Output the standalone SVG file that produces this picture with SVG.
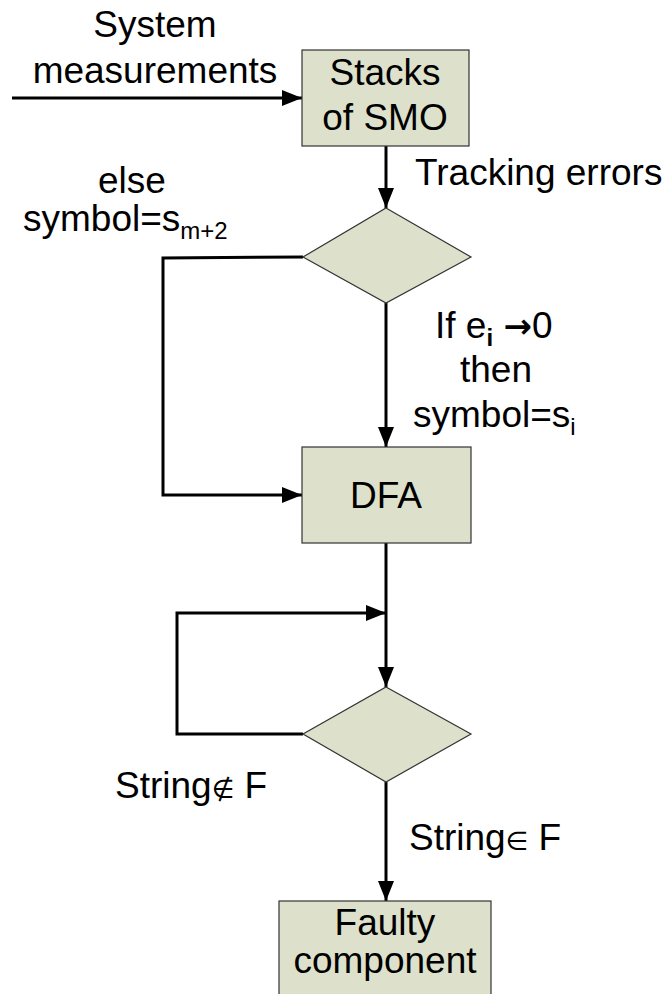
<svg xmlns="http://www.w3.org/2000/svg" width="669" height="994" viewBox="0 0 669 994">
  <style>
    .box { fill: #dde0cb; stroke: #333333; stroke-width: 1.2; }
    .edge { fill: none; stroke: #000000; stroke-width: 3; }
    .lbl { font-family: "Liberation Sans", Arial, sans-serif; font-size: 37px; fill: #000000; }
    .c { text-anchor: middle; }
    .sub { font-size: 24px; }
    .sym { font-family: "DejaVu Sans", sans-serif; font-size: 26px; }
    .arr { font-family: "DejaVu Sans", sans-serif; font-weight: bold; font-size: 34px; }
  </style>
  <defs>
    <marker id="arrow" viewBox="0 0 20 16" markerWidth="20" markerHeight="16" refX="20" refY="8" orient="auto" markerUnits="userSpaceOnUse">
      <path d="M0,0 L20,8 L0,16 z" fill="#000000"/>
    </marker>
  </defs>

  <rect width="669" height="994" fill="#ffffff"/>

  <!-- connectors -->
  <g id="connectors">
    <line class="edge" x1="12" y1="98" x2="302" y2="98" marker-end="url(#arrow)"/>
    <line class="edge" x1="386" y1="146" x2="386" y2="208" marker-end="url(#arrow)"/>
    <polyline class="edge" points="303,257 163,258 163,495 302,495" marker-end="url(#arrow)"/>
    <line class="edge" x1="386" y1="303" x2="386" y2="447" marker-end="url(#arrow)"/>
    <line class="edge" x1="386" y1="543" x2="386" y2="687" marker-end="url(#arrow)"/>
    <polyline class="edge" points="303,734 177,734 177,613 386,613" marker-end="url(#arrow)"/>
    <line class="edge" x1="386" y1="782" x2="386" y2="901" marker-end="url(#arrow)"/>
  </g>

  <!-- edge labels -->
  <g id="labels">
    <text class="lbl c" x="155" y="37">System</text>
    <text class="lbl c" x="155" y="83">measurements</text>
    <text class="lbl" x="415" y="185">Tracking errors</text>
    <text class="lbl c" x="132" y="193">else</text>
    <text class="lbl" x="23" y="231">symbol=s<tspan class="sub" dy="8">m+2</tspan></text>
    <text class="lbl" x="435" y="338">If e<tspan class="sub" dy="8" font-weight="bold">i</tspan><tspan dy="-8"> </tspan><tspan class="arr">→</tspan>0</text>
    <text class="lbl c" x="496" y="382">then</text>
    <text class="lbl" x="413" y="427">symbol=s<tspan class="sub" dy="8">i</tspan></text>
    <text class="lbl" x="115" y="798">String<tspan class="sym">∉</tspan> F</text>
    <text class="lbl" x="409" y="850">String<tspan class="sym">∈</tspan> F</text>
  </g>

  <!-- nodes -->
  <g id="stacks-smo">
    <rect class="box" x="302" y="50" width="167" height="96"/>
    <text class="lbl c" x="385" y="85">Stacks</text>
    <text class="lbl c" x="385" y="130">of SMO</text>
  </g>
  <g id="decision-error">
    <polygon class="box" points="386,208 471,257 386,303 303,257"/>
  </g>
  <g id="dfa">
    <rect class="box" x="302" y="447" width="169" height="96"/>
    <text class="lbl c" x="386" y="508">DFA</text>
  </g>
  <g id="decision-string">
    <polygon class="box" points="386,687 471,734 386,782 303,734"/>
  </g>
  <g id="faulty-component">
    <rect class="box" x="279" y="901" width="212" height="100"/>
    <text class="lbl c" x="385" y="935">Faulty</text>
    <text class="lbl c" x="385" y="973">component</text>
  </g>
</svg>
